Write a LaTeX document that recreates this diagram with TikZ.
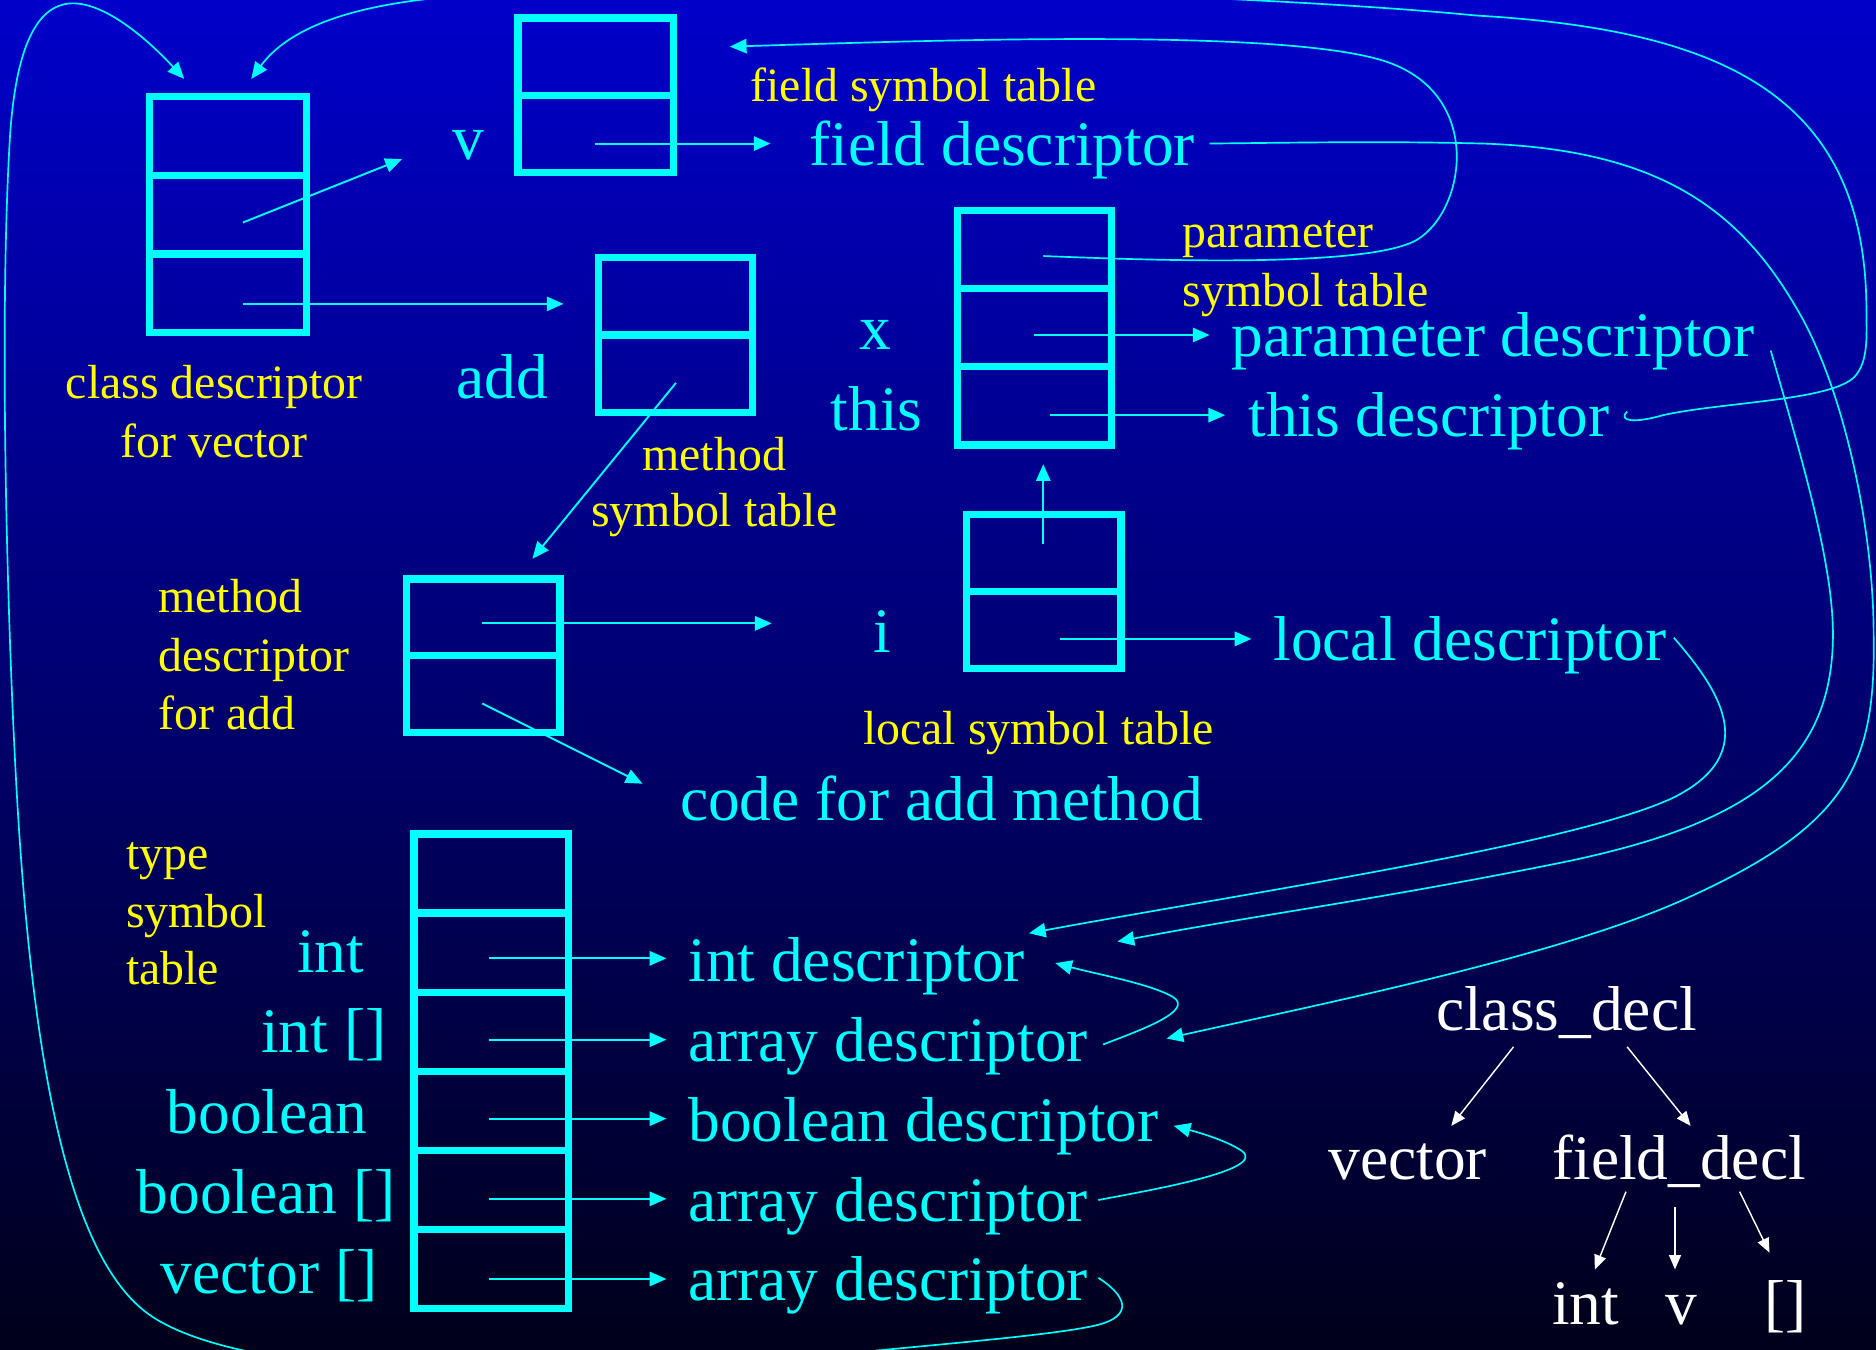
\documentclass[tikz,border=0pt]{standalone}
\usepackage{fontspec}
\setmainfont{Liberation Serif}
\usetikzlibrary{arrows.meta,calc}
\definecolor{bgtop}{RGB}{0,0,202}
\definecolor{bgmid}{RGB}{0,0,148}
\definecolor{bgbot}{RGB}{0,0,26}
\definecolor{cy}{RGB}{0,255,255}
\definecolor{yl}{RGB}{255,255,0}
\begin{document}
\begin{tikzpicture}[x=0.5pt,y=-0.5pt,
  tbl/.style 2 args={draw=cy,line width=3pt,inner sep=0pt,outer sep=0pt,
    minimum width=#1*0.5pt,minimum height=#2*0.5pt},
  divline/.style={draw=cy,line width=3pt},
  cytxt/.style={text=cy,inner sep=0pt,font=\fontsize{26.5}{30}\selectfont},
  yltxt/.style={text=yl,inner sep=0pt,font=\fontsize{20}{24}\selectfont},
  whtxt/.style={text=white,inner sep=0pt,font=\fontsize{26.5}{30}\selectfont},
  ptr/.style={draw=cy,line width=0.8pt,-{Triangle[length=7pt,width=6pt]}},
  link/.style={draw=cy,line width=0.7pt,-{Triangle[length=7pt,width=6pt]}},
  tree/.style={draw=white,line width=0.6pt,-{Triangle[length=6pt,width=5pt]}}]
\useasboundingbox (0,0) rectangle (1568,1128);
\fill[top color=bgtop,middle color=bgmid,bottom color=bgbot] (0,0) rectangle (1568,1128);
\clip (0,0) rectangle (1568,1128);

% tables
\node[tbl={131}{197}] (cls) at (190.5,179.5) {};
\node[tbl={130}{129}] (fst) at (498,79.5) {};
\node[tbl={129}{130}] (mst) at (564.5,280) {};
\node[tbl={129}{196}] (pst) at (864.5,274) {};
\node[tbl={129}{129}] (lst) at (872.5,494.5) {};
\node[tbl={128}{128}] (mds) at (404,548) {};
\node[tbl={129}{397}] (tst) at (410.5,895.5) {};
\foreach \b/\n in {cls/3,fst/2,mst/2,pst/3,lst/2,mds/2,tst/6}{
  \pgfmathtruncatemacro{\m}{\n-1}
  \foreach \k in {1,...,\m}{
    \draw[divline] ($(\b.north west)!\k/\n!(\b.south west)$) -- ($(\b.north east)!\k/\n!(\b.south east)$);
  }
}

% yellow labels
\node[yltxt,anchor=base west] (fstl) at (627,85) {field symbol table};
\node[yltxt,anchor=base west] (pstl1) at (988,207) {parameter};
\node[yltxt,anchor=base west] (pstl2) at (988,256) {symbol table};
\node[yltxt,anchor=base] (clsl1) at (179,333) {class descriptor};
\node[yltxt,anchor=base] (clsl2) at (179,382) {for vector};
\node[yltxt,anchor=base] (mstl1) at (597,393) {method};
\node[yltxt,anchor=base] (mstl2) at (597,440) {symbol table};
\node[yltxt,anchor=base west] (mdsl1) at (132,512) {method};
\node[yltxt,anchor=base west] (mdsl2) at (132,561) {descriptor};
\node[yltxt,anchor=base west] (mdsl3) at (132,610) {for add};
\node[yltxt,anchor=base west] (lstl) at (721,622) {local symbol table};
\node[yltxt,anchor=base west] (tstl1) at (105,727) {type};
\node[yltxt,anchor=base west] (tstl2) at (105,775) {symbol};
\node[yltxt,anchor=base west] (tstl3) at (105,823) {table};

% cyan texts
\node[cytxt,anchor=base west] (nv) at (378,133) {v};
\node[cytxt,anchor=base west] (fd) at (676,138) {field descriptor};
\node[cytxt,anchor=base west] (nadd) at (381,333) {add};
\node[cytxt,anchor=base west] (nx) at (718,292) {x};
\node[cytxt,anchor=base west] (nthis) at (694,360) {this};
\node[cytxt,anchor=base west] (pd) at (1029,298) {parameter descriptor};
\node[cytxt,anchor=base west] (td) at (1043,365) {this descriptor};
\node[cytxt,anchor=base west] (ni) at (730,545) {i};
\node[cytxt,anchor=base west] (ld) at (1064,552) {local descriptor};
\node[cytxt,anchor=base west] (code) at (568,686) {code for add method};
\node[cytxt,anchor=base west] (tint) at (248,813) {int};
\node[cytxt,anchor=base west] (tinta) at (218,880) {int []};
\node[cytxt,anchor=base west] (tbool) at (139,947) {boolean};
\node[cytxt,anchor=base west] (tboola) at (114,1014) {boolean []};
\node[cytxt,anchor=base west] (tveca) at (134,1081) {vector []};
\node[cytxt,anchor=base west] (intd) at (575,820) {int descriptor};
\node[cytxt,anchor=base west] (ad1) at (575,887) {array descriptor};
\node[cytxt,anchor=base west] (boold) at (575,954) {boolean descriptor};
\node[cytxt,anchor=base west] (ad2) at (575,1021) {array descriptor};
\node[cytxt,anchor=base west] (ad3) at (575,1087) {array descriptor};

% white tree
\node[whtxt,anchor=base west] (cd) at (1200,861) {class\_decl};
\node[whtxt,anchor=base west] (vec) at (1110,986) {vector};
\node[whtxt,anchor=base west] (fdl) at (1297,986) {field\_decl};
\node[whtxt,anchor=base west] (lint) at (1297,1107) {int};
\node[whtxt,anchor=base west] (lv) at (1392,1107) {v};
\node[whtxt,anchor=base west] (lbr) at (1474,1107) {[]};

% pointer coordinates
\coordinate (c2) at (203,186);   \coordinate (c2t) at (336,133);
\coordinate (c3) at (203,254);   \coordinate (c3t) at (471,254);
\coordinate (f2) at (497,120);   \coordinate (f2t) at (644,120);
\coordinate (m2) at (565,320);   \coordinate (m2t) at (445,467);
\coordinate (p1) at (872,214);   \coordinate (p1t) at (610,39);
\coordinate (p2) at (864,280);   \coordinate (p2t) at (1011,280);
\coordinate (p3) at (878,347);   \coordinate (p3t) at (1024,347);
\coordinate (l1) at (872,455);   \coordinate (l1t) at (872,388);
\coordinate (l2) at (886,534);   \coordinate (l2t) at (1046,534);
\coordinate (d1) at (403,521);   \coordinate (d1t) at (645,521);
\coordinate (d2) at (403,588);   \coordinate (d2t) at (537,655);

\draw[ptr] (c2) -- (c2t);
\draw[ptr] (c3) -- (c3t);
\draw[ptr] (f2) -- (f2t);
\draw[ptr] (m2) -- (m2t);
\draw[ptr] (p2) -- (p2t);
\draw[ptr] (p3) -- (p3t);
\draw[ptr] (l1) -- (l1t);
\draw[ptr] (l2) -- (l2t);
\draw[ptr] (d1) -- (d1t);
\draw[ptr] (d2) -- (d2t);
\foreach \y/\t in {801/intd,869/ad1,935/boold,1002/ad2,1069/ad3}{
  \draw[ptr] (409,\y) -- ($(\t.west|-0,\y)+(-18,0)$);
}

% curved links
\coordinate (fde) at (1011,120);
\coordinate (pde) at (1480,293);
\coordinate (lde) at (1399,533);
\coordinate (tde) at (1360,344);
\coordinate (a1e) at (922,873);
\coordinate (a2e) at (918,1003);
\coordinate (a3e) at (918,1068);
\coordinate (clsA) at (154,66);
\coordinate (clsB) at (210,66);
\coordinate (intA) at (860,780);
\coordinate (intB) at (934,787);
\coordinate (intC) at (882,805);
\coordinate (arrA) at (975,868);
\coordinate (boolA) at (981,941);

% parameter symbol table -> field symbol table
\draw[link] (p1) .. controls (950,217) and (1145,225) .. (1185,200)
  .. controls (1225,175) and (1240,80) .. (1160,52)
  .. controls (1080,24) and (800,33) .. (p1t);
% field descriptor -> array descriptor
\draw[link] (fde) .. controls (1100,119) and (1160,118) .. (1240,120)
  .. controls (1380,125) and (1450,170) .. (1500,255)
  .. controls (1540,320) and (1566,440) .. (1566,530)
  .. controls (1568,640) and (1545,690) .. (1407,752)
  .. controls (1300,800) and (1100,840) .. (arrA);
% parameter descriptor -> int descriptor
\draw[link] (pde) .. controls (1505,380) and (1532,470) .. (1532,530)
  .. controls (1532,640) and (1460,690) .. (1300,722)
  .. controls (1150,752) and (1050,765) .. (intB);
% local descriptor -> int descriptor
\draw[link] (lde) .. controls (1440,580) and (1470,630) .. (1400,666)
  .. controls (1320,705) and (1050,745) .. (intA);
% this descriptor -> class descriptor
\draw[link] (tde) .. controls (1352,352) and (1366,354) .. (1390,347)
  .. controls (1440,336) and (1530,335) .. (1550,315)
  .. controls (1562,302) and (1560,280) .. (1560,260)
  .. controls (1560,80) and (1440,25) .. (1234,13)
  .. controls (1050,-5) and (600,-20) .. (380,-3)
  .. controls (290,4) and (240,25) .. (clsB);
% element types
\draw[link] (a1e) .. controls (950,862) and (1000,845) .. (980,833)
  .. controls (960,822) and (920,815) .. (intC);
\draw[link] (a2e) .. controls (960,995) and (1060,978) .. (1038,962)
  .. controls (1025,953) and (1000,946) .. (boolA);
% vector [] -> class descriptor
\draw[link] (a3e) .. controls (940,1082) and (950,1100) .. (915,1108)
  .. controls (880,1116) and (780,1124) .. (700,1132)
  .. controls (500,1152) and (220,1160) .. (128,1101)
  .. controls (60,1057) and (25,900) .. (12,624)
  .. controls (5,480) and (0,260) .. (8,120)
  .. controls (13,30) and (35,0) .. (65,3)
  .. controls (95,6) and (130,40) .. (clsA);

% tree edges
\coordinate (cdl) at (1265,875); \coordinate (vect) at (1213,941);
\coordinate (cdr) at (1360,875); \coordinate (fdlt) at (1413,941);
\coordinate (fl) at (1359,996);  \coordinate (lintt) at (1333,1061);
\coordinate (fm) at (1400,1009); \coordinate (lvt) at (1400,1061);
\coordinate (fr) at (1454,996);  \coordinate (lbrt) at (1479,1047);
\draw[tree] (cdl) -- (vect);
\draw[tree] (cdr) -- (fdlt);
\draw[tree] (fl) -- (lintt);
\draw[tree] (fm) -- (lvt);
\draw[tree] (fr) -- (lbrt);
\end{tikzpicture}
\end{document}
